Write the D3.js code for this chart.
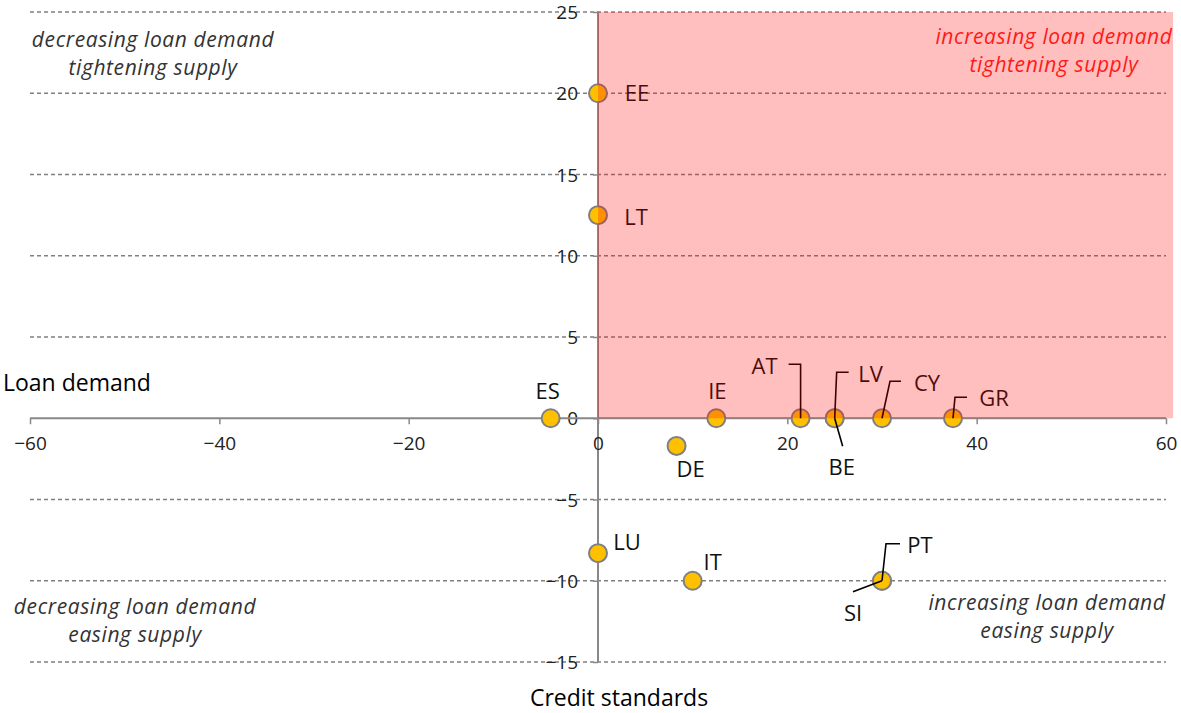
<!DOCTYPE html>
<html><head><meta charset="utf-8">
<script src="https://cdn.jsdelivr.net/npm/d3@7"></script>
<style>
body{margin:0;background:#fff;}
svg text{font-family:"Open Sans","Lato",sans-serif;}
</style></head>
<body><svg id="c" width="1181" height="713"></svg>
<script>
const countries = ["EE","LT","ES","IE","DE","AT","BE","LV","CY","GR","LU","IT","PT","SI"];
const creditStandards = [0,0,-5,12.5,8.3,21.4,25,25,30,37.5,0,10,30,30];
const loanDemand = [20,12.5,0,0,-1.7,0,0,0,0,0,-8.3,-10,-10,-10];
const xTicks = [-60,-40,-20,0,20,40,60];
const yTicks = [-15,-10,-5,0,5,10,15,20,25];

// label layout: offsets of label centre from point (px), optional leader path points
const labelLayout = {
  EE:{dx:39,dy:-1}, LT:{dx:38,dy:1}, ES:{dx:-3,dy:-28}, IE:{dx:1,dy:-28},
  DE:{dx:14,dy:22}, AT:{dx:-36,dy:-53, leader:[[0,0],[0,-54],[-12,-54]]},
  BE:{dx:7,dy:48, leader:[[0,0],[8,28]]}, LV:{dx:36,dy:-45, leader:[[0,0],[2,-46],[14,-46]]},
  CY:{dx:45,dy:-36, leader:[[0,0],[8,-37],[19,-37]]}, GR:{dx:41,dy:-21, leader:[[0,0],[2,-21],[14,-21]]},
  LU:{dx:29,dy:-12}, IT:{dx:20,dy:-20},
  PT:{dx:38,dy:-37, leader:[[0,0],[4,-37],[18,-37]]}, SI:{dx:-29,dy:31, leader:[[0,0],[-29,11]]}
};

const svg = d3.select("#c");
const x = d3.scaleLinear().domain([-60,60]).range([30,1166]);
const y = d3.scaleLinear().domain([-15,25]).range([662,12]);

// gridlines
svg.append("g").selectAll("line").data(yTicks.filter(d=>d!==0)).join("line")
  .attr("x1",x(-60)).attr("x2",x(60)).attr("y1",d=>y(d)).attr("y2",d=>y(d))
  .attr("stroke","#808080").attr("stroke-width",1.3).attr("stroke-dasharray","4,3");

// y-axis
const yAxis = d3.axisLeft(y).tickValues(yTicks).tickSize(5).tickPadding(15).tickFormat(d3.format("d"));
const gy = svg.append("g").attr("transform",`translate(${x(0)},0)`).call(yAxis);
gy.select(".domain").attr("stroke","#888").attr("stroke-width",2).attr("d",`M0,${y(25)}V${y(-15)}`);
gy.selectAll(".tick line").attr("stroke","#888").attr("stroke-width",1.5);
gy.selectAll(".tick text").attr("font-size",19).attr("fill","#222").attr("font-family","Open Sans").attr("dy","0.35em");

// x-axis
const xAxis = d3.axisBottom(x).tickValues(xTicks).tickSize(6).tickPadding(12).tickFormat(d3.format("d"));
const gx = svg.append("g").attr("transform",`translate(0,${y(0)})`).call(xAxis);
gx.select(".domain").attr("stroke","#888").attr("stroke-width",2).attr("d",`M${x(-60)},0H${x(60)}`);
gx.selectAll(".tick line").attr("stroke","#888").attr("stroke-width",1.5);
gx.selectAll(".tick text").attr("font-size",19).attr("fill","#222").attr("font-family","Open Sans");

// points
const pts = countries.map((c,i)=>({c, x:creditStandards[i], y:loanDemand[i]}));
svg.append("g").selectAll("circle").data(pts).join("circle")
  .attr("cx",d=>x(d.x)).attr("cy",d=>y(d.y)).attr("r",9)
  .attr("fill","#FFC000").attr("stroke","#808080").attr("stroke-width",2);

// leaders
svg.append("g").selectAll("path").data(pts.filter(d=>labelLayout[d.c].leader)).join("path")
  .attr("d",d=>d3.line()(labelLayout[d.c].leader.map(p=>[x(d.x)+p[0],y(d.y)+p[1]])))
  .attr("fill","none").attr("stroke","#000").attr("stroke-width",1.6);

// labels
svg.append("g").selectAll("text").data(pts).join("text")
  .attr("x",d=>x(d.x)+labelLayout[d.c].dx).attr("y",d=>y(d.y)+labelLayout[d.c].dy)
  .attr("text-anchor","middle").attr("dominant-baseline","central")
  .attr("font-size",22).attr("fill","#111").text(d=>d.c);

// quadrant labels
const quad = [
  {lines:["decreasing loan demand","tightening supply"], cx:153, y0:39, color:"#333"},
  {lines:["decreasing loan demand","easing supply"], cx:135, y0:606, color:"#333"},
  {lines:["increasing loan demand","easing supply"], cx:1047, y0:602, color:"#333"}
];
quad.forEach(q=>{
  q.lines.forEach((t,i)=>svg.append("text").attr("x",q.cx).attr("y",q.y0+i*28)
    .attr("text-anchor","middle").attr("dominant-baseline","central")
    .attr("font-size",21).attr("letter-spacing",0.6).attr("font-style","italic").attr("fill",q.color).text(t));
});

// pink overlay
svg.append("rect").attr("x",x(0)).attr("y",y(25)).attr("width",x(60.75)-x(0)).attr("height",y(0)-y(25))
  .attr("fill","#ff0000").attr("fill-opacity",0.25);

// red quadrant label
["increasing loan demand","tightening supply"].forEach((t,i)=>svg.append("text").attr("x",1054).attr("y",36+i*28)
  .attr("text-anchor","middle").attr("dominant-baseline","central")
  .attr("font-size",21).attr("letter-spacing",0.6).attr("font-style","italic").attr("fill","#ff1a1a").text(t));

// axis titles
svg.append("text").attr("x",3).attr("y",382).attr("dominant-baseline","central")
  .attr("font-size",23).attr("fill","#000").text("Loan demand");
svg.append("text").attr("x",619).attr("y",697).attr("text-anchor","middle").attr("dominant-baseline","central")
  .attr("font-size",23).attr("fill","#000").text("Credit standards");
</script></body></html>
